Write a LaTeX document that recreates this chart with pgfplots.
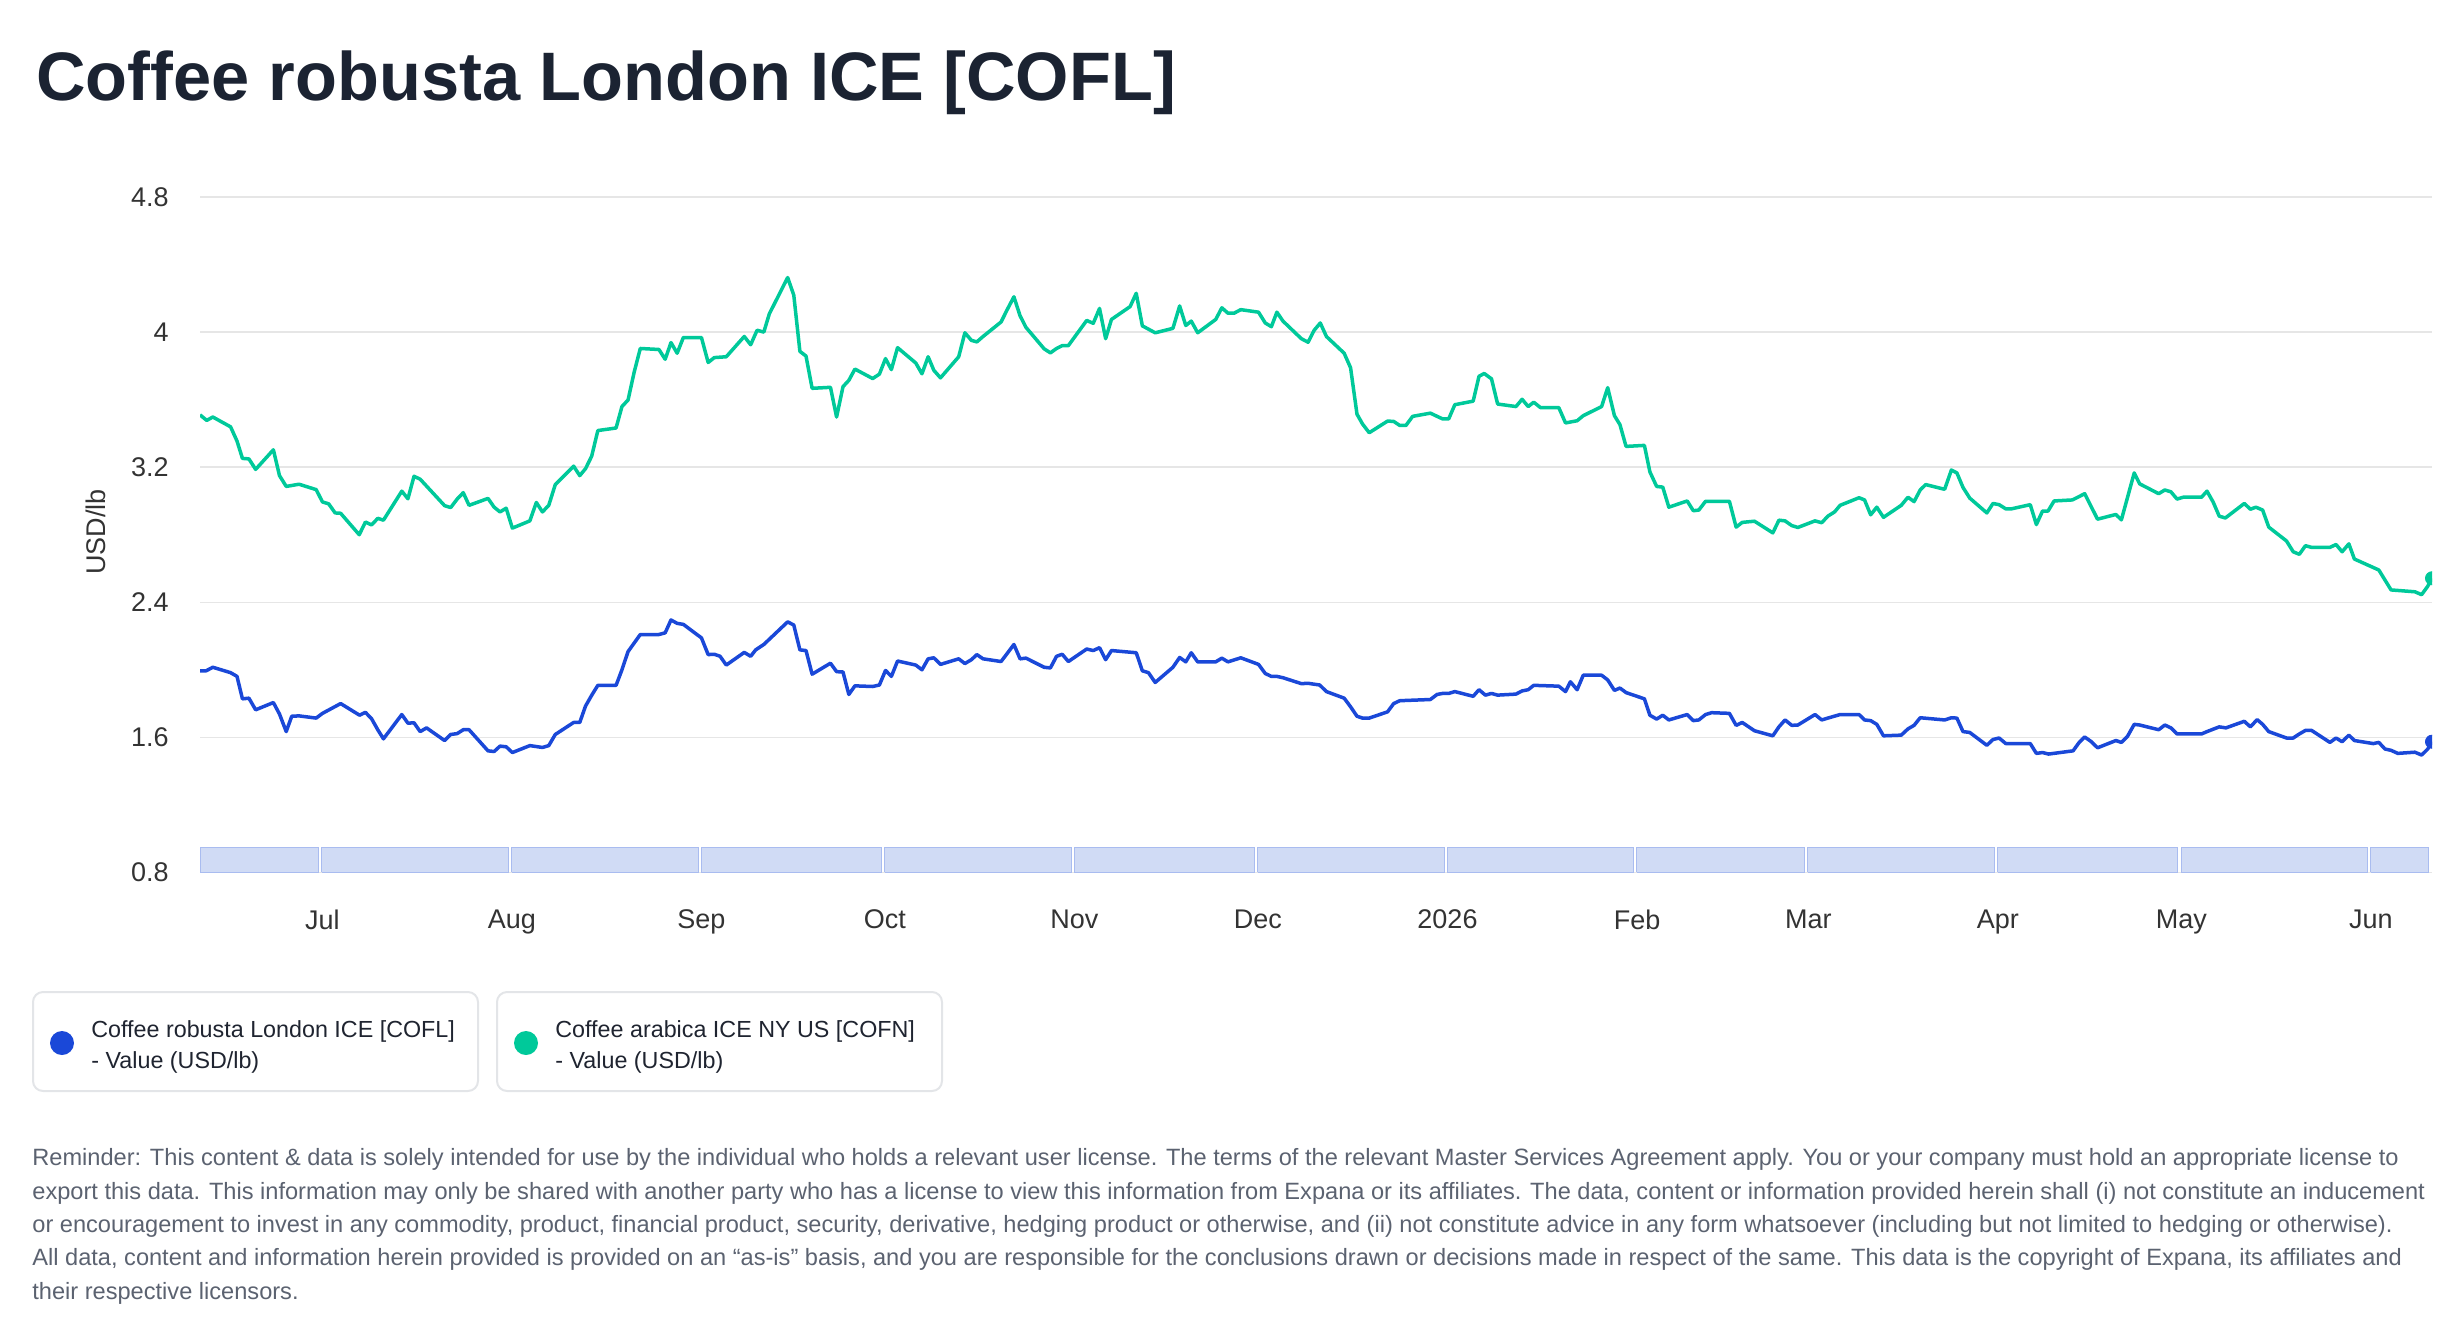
\documentclass[border=0pt]{standalone}
\usepackage{fontspec}
\setmainfont{Liberation Sans}
\usepackage{pgfplots}
\usepackage{pgfplotstable}
\pgfplotsset{compat=1.18}
\definecolor{robusta}{HTML}{1A48D8}
\definecolor{arabica}{HTML}{00C99A}
\definecolor{gridc}{HTML}{E6E6E6}
\definecolor{bandfill}{HTML}{D0DBF5}
\definecolor{bandedge}{HTML}{A9BCF0}
\definecolor{titlec}{HTML}{1B2332}
\definecolor{tickc}{HTML}{333333}
\definecolor{legtext}{HTML}{1F2430}
\definecolor{legborder}{HTML}{E3E5E8}
\definecolor{footc}{HTML}{5B6270}

% x = days since 1 Jul 2025, y = USD/lb
\pgfplotstableread{
x y
-20 3.51
-18.9 3.477
-17.9 3.497
-15.0 3.439
-13.95 3.355
-13.06 3.252
-12.0 3.249
-10.9 3.187
-8.0 3.303
-7.0 3.15
-5.9 3.086
-3.8 3.099
-1.0 3.067
0.03 2.994
1.04 2.983
2.1 2.929
3.0 2.927
6.04 2.80
7.05 2.875
8.06 2.858
9.07 2.897
10.0 2.886
13.0 3.058
14.0 3.013
15.0 3.146
16.0 3.129
20.0 2.972
21.0 2.961
22.05 3.011
23.05 3.049
24.0 2.974
27.1 3.015
28.1 2.963
29.06 2.935
30.07 2.957
31.08 2.839
33.94 2.882
35.0 2.991
36.0 2.935
37.03 2.974
38.1 3.097
41.1 3.206
42.1 3.15
43.04 3.191
44.05 3.265
45.06 3.417
48.04 3.432
49.0 3.559
50.0 3.598
51.0 3.763
52.0 3.903
55.05 3.897
56.07 3.839
57.02 3.938
58.03 3.875
59.04 3.968
62.0 3.968
63.1 3.82
64.1 3.849
66.06 3.854
69.0 3.974
70.05 3.925
71.1 4.011
72.2 4.0
73.1 4.108
76.1 4.323
77.1 4.219
78.1 3.886
79.1 3.858
80.1 3.667
83.1 3.673
84.1 3.497
85.15 3.677
86.1 3.714
87.1 3.781
90.0 3.725
91.1 3.751
92.1 3.843
93.06 3.778
94.07 3.908
97.05 3.817
98.06 3.753
99.07 3.854
100.0 3.774
101.09 3.729
104.07 3.854
105.08 3.996
106.15 3.951
107.04 3.942
108.05 3.974
111.0 4.06
112.0 4.133
113.1 4.209
114.1 4.097
115.07 4.028
118.04 3.901
119.06 3.877
120.07 3.903
121.0 3.92
122.0 3.92
125.0 4.069
126.07 4.052
127.1 4.14
128.1 3.961
129.05 4.075
132.1 4.151
133.1 4.23
134.1 4.037
136.2 3.996
139.1 4.022
140.2 4.155
141.2 4.039
142.1 4.065
143.15 3.996
146.1 4.075
147.1 4.144
148.1 4.112
149.1 4.112
150.2 4.133
153.1 4.118
154.2 4.054
155.2 4.032
156.1 4.118
157.1 4.065
160.1 3.961
161.2 3.94
162.2 4.011
163.2 4.054
164.2 3.974
167.1 3.875
168.15 3.789
169.2 3.514
170.1 3.456
171.2 3.404
174.2 3.473
175.2 3.471
176.2 3.447
177.2 3.447
178.3 3.501
181.2 3.52
182.3 3.501
183.2 3.486
184.2 3.486
185.2 3.57
188.2 3.591
189.15 3.738
190.0 3.755
191.2 3.723
192.2 3.574
195.2 3.559
196.2 3.602
197.2 3.559
198.1 3.585
199.2 3.553
202.2 3.553
203.3 3.462
205.2 3.475
206.2 3.505
209.2 3.559
210.2 3.671
211.3 3.505
212.2 3.452
213.2 3.323
216.2 3.329
217.1 3.172
218.2 3.086
219.2 3.082
220.2 2.963
223.2 3.0
224.2 2.942
225.1 2.946
226.2 2.998
230.1 2.998
231.2 2.845
232.2 2.873
234.2 2.88
237.2 2.811
238.2 2.886
239.2 2.882
240.3 2.854
241.3 2.843
244.1 2.882
245.2 2.871
246.2 2.910
247.3 2.935
248.2 2.974
251.3 3.019
252.2 3.006
253.2 2.918
254.2 2.963
255.3 2.903
258.2 2.974
259.3 3.022
260.3 2.996
261.3 3.065
262.2 3.097
265.3 3.069
266.4 3.183
267.3 3.166
268.3 3.08
269.4 3.017
272.2 2.929
273.2 2.985
274.2 2.978
275.3 2.953
276.2 2.953
279.3 2.978
280.3 2.86
281.3 2.94
282.2 2.94
283.2 3.0
286.2 3.006
288.2 3.043
290.3 2.892
293.3 2.92
294.2 2.888
296.3 3.166
297.2 3.101
300.3 3.043
301.3 3.065
302.3 3.054
303.3 3.011
304.3 3.022
307.3 3.022
308.2 3.058
309.2 2.994
310.2 2.91
311.2 2.899
314.3 2.985
315.3 2.951
316.2 2.963
317.3 2.946
318.3 2.845
321.2 2.763
322.3 2.699
323.3 2.684
324.3 2.735
325.3 2.725
328.3 2.725
329.3 2.742
330.3 2.699
331.4 2.746
332.3 2.656
336.3 2.591
338.3 2.473
342.2 2.462
343.3 2.445
344.3 2.495
345 2.542
}\arabicatab

\pgfplotstableread{
x y
-20 1.994
-19.0 1.994
-17.9 2.015
-15.0 1.983
-13.95 1.961
-13.06 1.828
-12.0 1.832
-10.9 1.763
-8.0 1.806
-7.0 1.738
-5.9 1.634
-5.0 1.725
-3.8 1.727
-1.0 1.714
0.03 1.742
3.0 1.80
6.1 1.731
7.05 1.748
8.06 1.71
9.07 1.645
10.0 1.591
13.0 1.735
14.0 1.684
15.0 1.686
16.0 1.634
17.05 1.656
20.0 1.581
21.0 1.617
22.05 1.622
23.05 1.645
24.0 1.645
27.1 1.52
28.1 1.516
29.06 1.548
30.07 1.544
31.08 1.51
33.94 1.551
36.0 1.54
37.03 1.551
38.1 1.617
41.1 1.688
42.1 1.688
43.04 1.785
44.05 1.849
45.06 1.908
48.04 1.908
49.0 2.0
50.0 2.108
52.0 2.209
55.05 2.209
56.07 2.219
57.02 2.295
58.03 2.275
59.04 2.269
62.0 2.189
63.1 2.09
64.1 2.092
65.05 2.08
66.06 2.028
69.0 2.103
70.05 2.08
70.87 2.118
72.2 2.15
76.1 2.284
77.1 2.265
78.1 2.118
79.1 2.114
80.1 1.974
83.1 2.039
84.1 1.989
85.15 1.987
86.1 1.854
87.1 1.905
90.0 1.901
91.1 1.91
92.1 1.996
93.06 1.961
94.07 2.052
97.05 2.028
98.06 2.0
99.07 2.065
100.0 2.071
101.09 2.032
104.07 2.065
105.08 2.037
106.15 2.06
107.04 2.09
108.05 2.065
111.0 2.049
112.0 2.097
113.1 2.15
114.1 2.065
115.07 2.069
118.04 2.015
119.06 2.011
120.07 2.08
121.0 2.092
122.0 2.049
125.0 2.123
126.07 2.114
127.1 2.131
128.1 2.06
129.05 2.114
133.1 2.101
134.1 1.994
135.1 1.983
136.2 1.925
139.1 2.015
140.2 2.073
141.2 2.047
142.1 2.101
143.15 2.047
146.1 2.047
147.1 2.069
148.1 2.047
150.2 2.071
153.1 2.032
154.2 1.978
155.2 1.961
156.1 1.961
157.1 1.953
160.1 1.918
161.2 1.92
163.1 1.91
164.2 1.871
167.1 1.832
168.15 1.781
169.2 1.725
170.1 1.714
171.2 1.714
174.2 1.751
175.2 1.80
176.2 1.817
181.2 1.824
182.3 1.854
183.2 1.86
184.2 1.86
185.2 1.871
188.2 1.843
189.15 1.882
190.2 1.85
191.2 1.86
192.2 1.85
195.2 1.856
196.2 1.875
197.2 1.882
198.1 1.908
202.2 1.903
203.3 1.871
204.1 1.929
205.2 1.882
206.2 1.968
209.2 1.968
210.2 1.94
211.3 1.878
212.2 1.892
213.2 1.865
216.2 1.828
217.1 1.731
218.2 1.708
219.2 1.731
220.2 1.703
223.2 1.735
224.2 1.699
225.1 1.703
226.2 1.735
227.2 1.746
230.1 1.742
231.2 1.671
232.2 1.688
234.2 1.639
237.2 1.609
238.2 1.662
239.2 1.703
240.3 1.671
241.3 1.673
244.1 1.735
245.2 1.703
246.2 1.714
248.2 1.735
251.3 1.735
252.2 1.703
253.2 1.699
254.2 1.677
255.3 1.609
258.2 1.613
259.3 1.65
260.3 1.671
261.3 1.716
265.3 1.703
266.4 1.716
267.3 1.714
268.3 1.634
269.4 1.629
272.2 1.553
273.2 1.587
274.2 1.596
275.3 1.563
279.3 1.563
280.3 1.505
281.3 1.51
282.3 1.501
286.3 1.52
287.3 1.57
288.2 1.602
289.3 1.574
290.3 1.538
293.3 1.581
294.2 1.57
295.2 1.606
296.3 1.677
297.2 1.673
300.3 1.645
301.3 1.673
302.3 1.656
303.3 1.62
307.3 1.62
308.2 1.634
310.2 1.662
311.3 1.656
314.3 1.695
315.3 1.662
316.4 1.705
317.3 1.677
318.3 1.634
321.2 1.596
322.3 1.596
323.3 1.62
324.3 1.641
325.3 1.641
328.3 1.57
329.3 1.596
330.3 1.574
331.4 1.613
332.3 1.581
335.4 1.563
336.3 1.57
337.3 1.531
338.3 1.523
339.4 1.505
342.2 1.512
343.3 1.495
344.3 1.531
345 1.574
}\robustatab

\begin{document}
\begin{tikzpicture}
\useasboundingbox (0,0) rectangle (1232pt,-670pt);
\begin{axis}[
  at={(100pt,-436.2pt)}, anchor=south west,
  scale only axis, width=1116pt, height=337.7pt,
  xmin=-20, xmax=345, ymin=0.8, ymax=4.8,
  axis line style={draw=none},
  xtick={0,31,62,92,123,153,184,215,243,274,304,335},
  xticklabels={Jul,Aug,Sep,Oct,Nov,Dec,2026,Feb,Mar,Apr,May,Jun},
  ytick={0.8,1.6,2.4,3.2,4,4.8},
  yticklabels={0.8,1.6,2.4,3.2,4,4.8},
  major tick length=0pt,
  ymajorgrids, grid style={gridc, line width=0.75pt},
  tick label style={font=\fontsize{13.5}{16}\selectfont, text=tickc},
  yticklabel style={anchor=east, inner sep=0pt, xshift=-15.5pt},
  xticklabel style={anchor=north, inner sep=0pt, yshift=-18.5pt},
  clip marker paths=true,
  unbounded coords=jump,
]
\addplot[fill=bandfill, draw=bandedge, line width=0.5pt] coordinates {
(-20,0.8) (-20,0.95) (-0.55,0.95) (-0.55,0.8) (-20,0.8) (nan,nan)
(-0.05,0.8) (-0.05,0.95) (30.45,0.95) (30.45,0.8) (-0.05,0.8) (nan,nan)
(30.95,0.8) (30.95,0.95) (61.45,0.95) (61.45,0.8) (30.95,0.8) (nan,nan)
(61.95,0.8) (61.95,0.95) (91.45,0.95) (91.45,0.8) (61.95,0.8) (nan,nan)
(91.95,0.8) (91.95,0.95) (122.45,0.95) (122.45,0.8) (91.95,0.8) (nan,nan)
(122.95,0.8) (122.95,0.95) (152.45,0.95) (152.45,0.8) (122.95,0.8) (nan,nan)
(152.95,0.8) (152.95,0.95) (183.45,0.95) (183.45,0.8) (152.95,0.8) (nan,nan)
(183.95,0.8) (183.95,0.95) (214.45,0.95) (214.45,0.8) (183.95,0.8) (nan,nan)
(214.95,0.8) (214.95,0.95) (242.45,0.95) (242.45,0.8) (214.95,0.8) (nan,nan)
(242.95,0.8) (242.95,0.95) (273.45,0.95) (273.45,0.8) (242.95,0.8) (nan,nan)
(273.95,0.8) (273.95,0.95) (303.45,0.95) (303.45,0.8) (273.95,0.8) (nan,nan)
(303.95,0.8) (303.95,0.95) (334.45,0.95) (334.45,0.8) (303.95,0.8) (nan,nan)
(334.95,0.8) (334.95,0.95) (344.4,0.95) (344.4,0.8) (334.95,0.8)
};
\addplot[arabica, line width=1.75pt, line join=round, no markers] table {\arabicatab};
\addplot[robusta, line width=1.75pt, line join=round, no markers] table {\robustatab};
\addplot[only marks, mark=*, mark size=3.3pt, arabica] coordinates {(345,2.542)};
\addplot[only marks, mark=*, mark size=3.3pt, robusta] coordinates {(345,1.574)};
\end{axis}
\begin{scope}[x=0.5pt,y=-0.5pt]
\node[anchor=base west, inner sep=0pt, font=\fontsize{34.3}{40}\selectfont\bfseries, text=titlec] at (36,100) {Coffee robusta London ICE [COFL]};
\node[rotate=90, inner sep=0pt, font=\fontsize{13.5}{15}\selectfont, text=tickc] at (96,532) {USD/lb};
% legend
\draw[legborder, line width=1pt, rounded corners=5pt, fill=white] (33,992) rectangle (478,1091);
\draw[legborder, line width=1pt, rounded corners=5pt, fill=white] (497,992) rectangle (942,1091);
\node[circle, fill=robusta, minimum size=12pt, inner sep=0pt] at (62,1043) {};
\node[circle, fill=arabica, minimum size=12pt, inner sep=0pt] at (526,1043) {};
\begin{scope}[every node/.style={anchor=base west, inner sep=0pt, font=\fontsize{11.65}{14}\selectfont, text=legtext}]
\node at (91,1037) {Coffee robusta London ICE [COFL]};
\node at (91,1068) {- Value (USD/lb)};
\node at (555,1037) {Coffee arabica ICE NY US [COFN]};
\node at (555,1068) {- Value (USD/lb)};
\end{scope}
% footer
\begin{scope}[every node/.style={anchor=base west, inner sep=0pt, font=\fontsize{11.8}{14}\selectfont, text=footc}]
\node at (32,1165.7) {Reminder: This content \& data is solely intended for use by the individual who holds a relevant user license. The terms of the relevant Master Services Agreement apply. You or your company must hold an appropriate license to};
\node at (32,1199.1) {export this data. This information may only be shared with another party who has a license to view this information from Expana or its affiliates. The data, content or information provided herein shall (i) not constitute an inducement};
\node at (32,1232.5) {or encouragement to invest in any commodity, product, financial product, security, derivative, hedging product or otherwise, and (ii) not constitute advice in any form whatsoever (including but not limited to hedging or otherwise).};
\node at (32,1265.9) {All data, content and information herein provided is provided on an “as-is” basis, and you are responsible for the conclusions drawn or decisions made in respect of the same. This data is the copyright of Expana, its affiliates and};
\node at (32,1299.3) {their respective licensors.};
\end{scope}
\end{scope}
\end{tikzpicture}
\end{document}
